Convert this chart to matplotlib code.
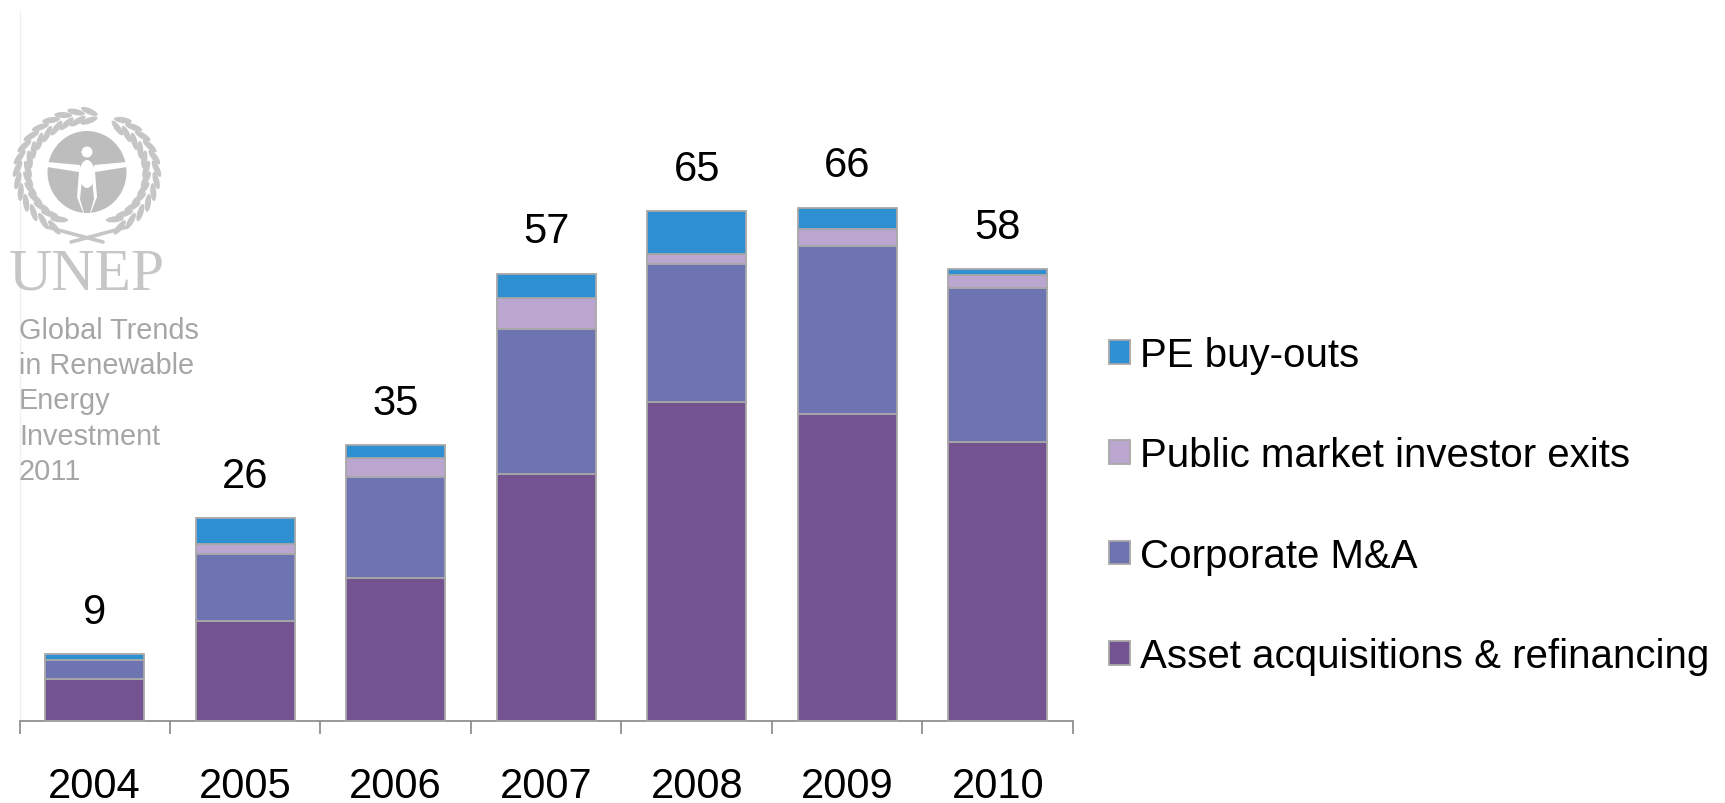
import numpy as np
import matplotlib
matplotlib.use("Agg")
import matplotlib.pyplot as plt
from matplotlib.patches import Ellipse, Polygon, Circle, Patch

years = ["2004", "2005", "2006", "2007", "2008", "2009", "2010"]
totals = [9, 26, 35, 57, 65, 66, 58]
asset = [5.3, 12.8, 18.3, 31.7, 41.0, 39.5, 35.8]
corporate = [2.5, 8.6, 13.1, 18.7, 17.8, 21.6, 19.9]
public = [0.0, 1.3, 2.4, 4.0, 1.2, 2.2, 1.6]
pe = [0.75, 3.3, 1.6, 3.1, 5.6, 2.7, 0.8]
series_names = ["Asset acquisitions & refinancing", "Corporate M&A",
                "Public market investor exits", "PE buy-outs"]
series_colors = ["#735390", "#6e73b2", "#baa6cf", "#2e90d0"]
note_lines = ["Global Trends", "in Renewable", "Energy", "Investment", "2011"]

W, H = 1725, 804
plt.rcParams["font.family"] = ["Liberation Sans", "DejaVu Sans"]
fig = plt.figure(figsize=(W / 100, H / 100), dpi=100, facecolor="white")

base_y = 721.5
top_y = 12.0
unit = 7.77
ax = fig.add_axes([19.5 / W, 1 - base_y / H, (1073 - 19.5) / W, (base_y - top_y) / H])
ax.set_xlim(-0.5, 6.5)
ax.set_ylim(0, (base_y - top_y) / unit)
x = np.arange(len(years))
bottom = np.zeros(len(years))
edge = "#a8a8a8"
for vals, col in zip([asset, corporate, public, pe], series_colors):
    v = np.array(vals)
    ax.bar(x, v, 0.66, bottom=bottom, color=col, edgecolor=edge, linewidth=1.3, clip_on=False, zorder=3)
    bottom += v
for xi, top, t in zip(x, bottom, totals):
    ax.annotate(str(t), (xi, top), xytext=(0, 22.5), textcoords="offset points",
                ha="center", va="baseline", fontsize=30, color="black")

for s in ["top", "right"]:
    ax.spines[s].set_visible(False)
ax.spines["left"].set_color("#f0f0f0")
ax.spines["left"].set_linewidth(1)
ax.spines["bottom"].set_color("#868686")
ax.spines["bottom"].set_linewidth(1.2)
ax.set_yticks([])
ax.set_xticks(np.arange(-0.5, 7, 1))
ax.set_xticklabels([])
ax.tick_params(axis="x", length=9.5, width=1.2, color="#868686")
for xi, y in zip(x, years):
    ax.annotate(y, (xi, 0), xytext=(0, -55), textcoords="offset points",
                ha="center", va="baseline", fontsize=30, color="black")

handles = [Patch(facecolor=c, edgecolor=edge, linewidth=1.3, label=n)
           for c, n in zip(series_colors, series_names)][::-1]
fig.legend(handles=handles, loc="upper left", bbox_to_anchor=(1101 / W, 1 - 329 / H),
           bbox_transform=fig.transFigure, frameon=False, fontsize=29,
           handlelength=0.52, handleheight=0.52, handletextpad=0.25, labelspacing=1.55,
           borderpad=0.2, borderaxespad=0)

# Report logo and source note, laid out in reference pixels
lg = fig.add_axes([0, 0, 1, 1], facecolor="none")
lg.set_xlim(0, W)
lg.set_ylim(H, 0)
lg.axis("off")
g = "#c6c6c6"
cx, cy = 87, 173
lg.add_patch(Ellipse((cx, cy), 79, 82, color="#bdbdbd", lw=0))
lg.add_patch(Polygon([[47, 163], [80, 166], [82, 180], [80, 200], [84, 214], [90, 214],
                      [94, 200], [92, 180], [94, 166], [127, 163], [127, 168], [95, 173],
                      [97, 198], [90, 216], [84, 216], [77, 198], [79, 173], [47, 168]],
                     color="white", lw=0))
lg.add_patch(Circle((cx, 153), 5.5, color="white", lw=0))
lg.add_patch(Ellipse((cx, 175), 15, 28, color="white", lw=0))
for side, a_max in ((-1, 100), (1, 68)):
    for a in np.arange(-62, a_max, 11):
        t = np.radians(a)
        for off, ang_off in ((-5, 22), (5, -22)):
            r = 62 + off
            px = cx + side * r * 1.04 * np.cos(t)
            py = 174 - r * 0.92 * np.sin(t)
            lg.add_patch(Ellipse((px, py), 18, 6, angle=side * (90 - a + ang_off), color=g, lw=0))
    lg.plot([cx + side * 40, cx - side * 16], [228, 243], color=g, lw=2.6, solid_capstyle="round")
lg.text(86.5, 289.5, "UNEP", family="Liberation Serif", fontsize=43, color="#c6c6c6",
        ha="center", va="baseline")
for i, line in enumerate(note_lines):
    lg.text(19, 339 + i * 35.2, line, fontsize=20.8, color="#a6a6a6", ha="left", va="baseline")

fig.savefig("out.png", dpi=100, facecolor="white")
